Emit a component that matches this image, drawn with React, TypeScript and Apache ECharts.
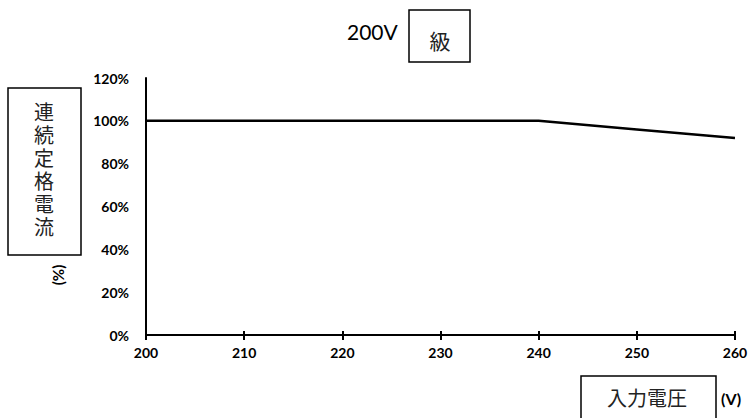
import React, { useEffect, useRef } from "react";
import * as echarts from "echarts";

// Input voltage (V) and continuous rated current (%)
const voltages = [200, 210, 220, 230, 240, 250, 260];
const ratedCurrent = [100, 100, 100, 100, 100, 96, 92];
const yTicks = { min: 0, max: 120, step: 20 };
const titleText = "200V";
const titleBoxText = "級";
const yTitleText = "連続定格電流";
const yUnitText = "(%)";
const xTitleText = "入力電圧";
const xUnitText = "(V)";

const LABEL_FONT = "Lato, 'Open Sans', sans-serif";
const CJK_FONT = "'Noto Sans CJK JP', sans-serif";

export default function App() {
  const ref = useRef<HTMLDivElement>(null);

  useEffect(() => {
    if (!ref.current) return;
    const chart = echarts.init(ref.current, null, { renderer: "svg" });

    const seriesData = voltages.map((v, i) => [v, ratedCurrent[i]]);

    const xCommon = {
      type: "value" as const,
      min: voltages[0],
      max: voltages[voltages.length - 1],
      interval: 10,
      splitLine: { show: false },
    };

    // vertical axis title: one glyph per line
    const yTitleChars = yTitleText.split("").map((ch, i) => ({
      type: "text",
      x: 44,
      y: 111 + i * 23,
      style: {
        text: ch,
        fontSize: 20,
        lineHeight: 20,
        fontFamily: CJK_FONT,
        fill: "#222",
        align: "center",
        verticalAlign: "middle",
      },
    }));

    chart.setOption({
      animation: false,
      backgroundColor: "#ffffff",
      grid: { left: 146, right: 18, top: 78, bottom: 83, containLabel: false },
      xAxis: [
        {
          ...xCommon,
          axisLine: { show: true, onZero: false, lineStyle: { color: "#000", width: 2 } },
          axisTick: { show: true, inside: false, length: 5, lineStyle: { color: "#000", width: 2 } },
          axisLabel: {
            show: true,
            margin: 10,
            color: "#000",
            fontSize: 14,
            fontWeight: "bold",
            fontFamily: LABEL_FONT,
          },
        },
        {
          ...xCommon,
          position: "bottom",
          axisLine: { show: false },
          axisTick: { show: true, inside: true, length: 4, lineStyle: { color: "#000", width: 2 } },
          axisLabel: { show: false },
        },
      ],
      yAxis: {
        type: "value",
        min: yTicks.min,
        max: yTicks.max,
        interval: yTicks.step,
        splitLine: { show: false },
        axisLine: { show: true, lineStyle: { color: "#000", width: 2 } },
        axisTick: { show: false },
        axisLabel: {
          formatter: "{value}%",
          margin: 17,
          color: "#000",
          fontSize: 14,
          fontWeight: "bold",
          fontFamily: LABEL_FONT,
        },
      },
      series: [
        {
          type: "line",
          xAxisIndex: 0,
          data: seriesData,
          showSymbol: false,
          symbol: "none",
          lineStyle: { color: "#000", width: 2.5 },
        },
      ],
      graphic: [
        {
          type: "text",
          left: 347,
          top: 21,
          style: {
            text: titleText,
            fontSize: 21,
            fontFamily: LABEL_FONT,
            fill: "#000",
          },
        },
        {
          type: "rect",
          shape: { x: 409, y: 10, width: 61, height: 52 },
          style: { fill: "#fff", stroke: "#000", lineWidth: 1.5 },
        },
        {
          type: "text",
          x: 440,
          y: 40,
          style: {
            text: titleBoxText,
            fontSize: 21,
            fontFamily: CJK_FONT,
            fill: "#222",
            align: "center",
            verticalAlign: "middle",
          },
        },
        {
          type: "rect",
          shape: { x: 8, y: 88, width: 73, height: 167 },
          style: { fill: "#fff", stroke: "#000", lineWidth: 1.5 },
        },
        ...yTitleChars,
        {
          type: "text",
          x: 58,
          y: 275,
          rotation: Math.PI / 2,
          style: {
            text: yUnitText,
            fontSize: 15,
            fontWeight: "bold",
            fontFamily: LABEL_FONT,
            fill: "#000",
            align: "center",
            verticalAlign: "middle",
          },
        },
        {
          type: "rect",
          shape: { x: 581, y: 376, width: 135, height: 50 },
          style: { fill: "#fff", stroke: "#000", lineWidth: 1.5 },
        },
        {
          type: "text",
          x: 647,
          y: 397,
          style: {
            text: xTitleText,
            fontSize: 20,
            fontFamily: CJK_FONT,
            fill: "#222",
            align: "center",
            verticalAlign: "middle",
          },
        },
        {
          type: "text",
          x: 731,
          y: 398,
          style: {
            text: xUnitText,
            fontSize: 16,
            fontWeight: "bold",
            fontFamily: LABEL_FONT,
            fill: "#000",
            align: "center",
            verticalAlign: "middle",
          },
        },
      ],
    });

    return () => chart.dispose();
  }, []);

  return <div ref={ref} style={{ width: 753, height: 418, position: "fixed", left: 0, top: 0 }} />;
}
